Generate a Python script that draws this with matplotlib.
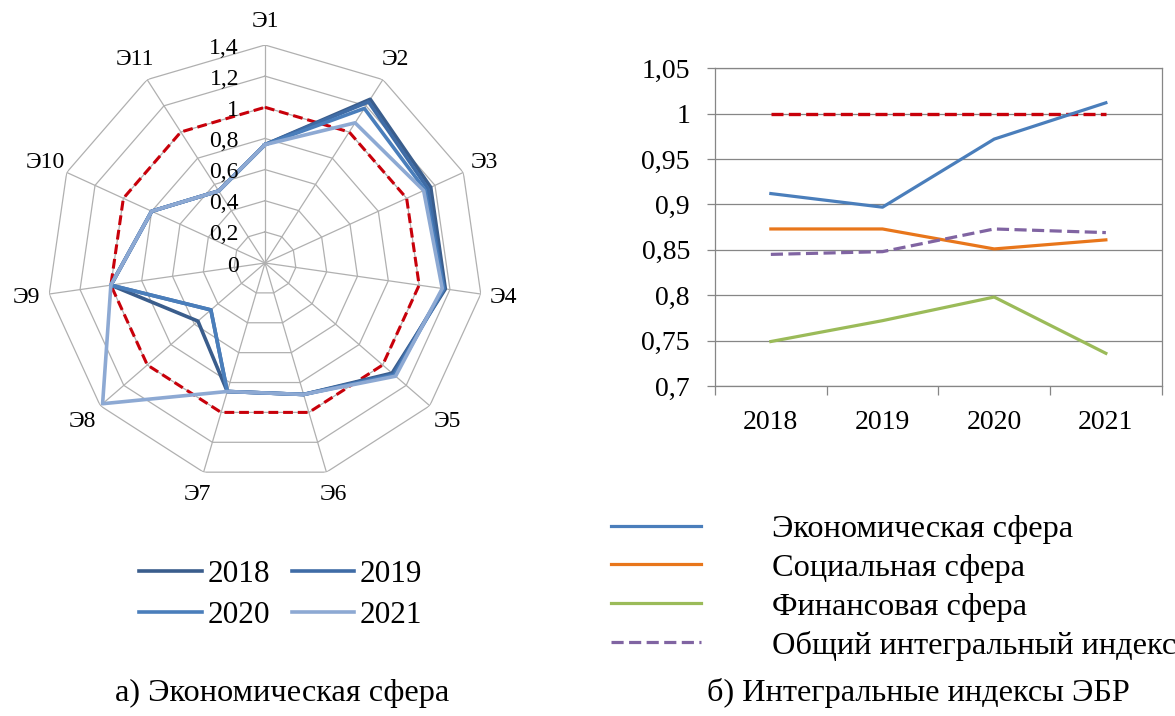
import numpy as np
import matplotlib
matplotlib.use("Agg")
import matplotlib.pyplot as plt

plt.rcParams['font.family'] = ['Liberation Serif', 'DejaVu Serif']

# ---------------- data ----------------
categories = ['Э1', 'Э2', 'Э3', 'Э4', 'Э5', 'Э6', 'Э7', 'Э8', 'Э9', 'Э10', 'Э11']
radar_2018 = [0.76, 1.25, 1.17, 1.17, 1.08, 0.88, 0.86, 0.57, 1.00, 0.80, 0.55]
radar_2019 = [0.76, 1.23, 1.15, 1.16, 1.09, 0.88, 0.86, 0.46, 1.00, 0.80, 0.55]
radar_2020 = [0.76, 1.18, 1.13, 1.16, 1.10, 0.88, 0.86, 0.46, 1.00, 0.80, 0.55]
radar_2021 = [0.76, 1.07, 1.12, 1.15, 1.11, 0.88, 0.86, 1.38, 1.00, 0.80, 0.55]
radar_norm = [1.0] * 11
radar_ticks = [0, 0.2, 0.4, 0.6, 0.8, 1.0, 1.2, 1.4]
radar_tick_labels = ['0', '0,2', '0,4', '0,6', '0,8', '1', '1,2', '1,4']

years = ['2018', '2019', '2020', '2021']
econ = [0.912, 0.897, 0.972, 1.012]
social = [0.873, 0.873, 0.851, 0.861]
finance = [0.749, 0.772, 0.798, 0.736]
general = [0.845, 0.848, 0.873, 0.869]
norm_line = [1.0, 1.0, 1.0, 1.0]
y_ticks = [0.7, 0.75, 0.8, 0.85, 0.9, 0.95, 1.0, 1.05]
y_tick_labels = ['0,7', '0,75', '0,8', '0,85', '0,9', '0,95', '1', '1,05']
legend_labels = ['Экономическая сфера', 'Социальная сфера', 'Финансовая сфера',
                 'Общий интегральный индекс']

W, H = 1175, 716
fig = plt.figure(figsize=(W / 100, H / 100), dpi=100)

# ---------------- radar ----------------
cx, cy, R = 265, 263, 218
ax = fig.add_axes([(cx - R) / W, (H - cy - R) / H, 2 * R / W, 2 * R / H], projection='polar')
ax.set_theta_zero_location('N')
ax.set_theta_direction(-1)
ax.set_ylim(0, 1.4)
ax.grid(False)
ax.set_xticks([])
ax.set_yticks([])
ax.spines['polar'].set_visible(False)
ax.patch.set_visible(False)

n = len(categories)
ang = np.linspace(0, 2 * np.pi, n, endpoint=False)
ang_c = np.append(ang, ang[0])
grid_col = '#B0B0B0'
for r in radar_ticks[1:]:
    ax.plot(ang_c, [r] * (n + 1), color=grid_col, lw=0.9, zorder=1)
for a in ang:
    ax.plot([a, a], [0, 1.4], color=grid_col, lw=0.9, zorder=1)

def closed(v):
    return list(v) + [v[0]]

ax.plot(ang_c, closed(radar_norm), color='#C8000A', lw=2.2, ls=(0, (3.2, 1.6)), zorder=2)
year_colors = ['#3A5D8C', '#3F6CA6', '#4A7EBB', '#8DA9D3']
radar_series = [radar_2018, radar_2019, radar_2020, radar_2021]
handles = []
for yr, vals, col in zip(years, radar_series, year_colors):
    h, = ax.plot(ang_c, closed(vals), color=col, lw=2.6, zorder=3, label=yr)
    handles.append(h)

for r, lab in zip(radar_ticks, radar_tick_labels):
    ax.annotate(lab, xy=(0, r), xytext=(-26, -3), textcoords='offset pixels',
                ha='right', va='center', fontsize=17, annotation_clip=False)
for a, lab in zip(ang, categories):
    ax.text(a, 1.55, lab, ha='center', va='center', fontsize=17, clip_on=False)

order = [0, 2, 1, 3]
fig.legend(handles=[handles[i] for i in order], labels=[years[i] for i in order],
           ncol=2, loc='center', bbox_to_anchor=(281 / W, 1 - 595 / H), frameon=False,
           fontsize=22.5, handlelength=2.0, handletextpad=0.18, columnspacing=0.7,
           labelspacing=0.38, borderpad=0, borderaxespad=0)

# ---------------- line chart ----------------
left, right, top, bottom = 715, 1161.7, 68.3, 386
ax2 = fig.add_axes([left / W, (H - bottom) / H, (right - left) / W, (bottom - top) / H])
x = np.arange(len(years)) + 0.5
ax2.set_xlim(0, len(years))
ax2.set_ylim(0.7, 1.05)
ax2.set_yticks(y_ticks)
ax2.set_yticklabels(y_tick_labels, fontsize=20)
ax2.set_xticks(np.arange(len(years) + 1))
ax2.set_xticklabels([])
ax2.set_xticks(x, minor=True)
ax2.set_xticklabels(years, minor=True, fontsize=20)
ax2.tick_params(axis='x', which='major', length=6.5, color='#868686', width=0.9)
ax2.tick_params(axis='x', which='minor', length=0, pad=17.5)
ax2.tick_params(axis='y', length=6, color='#868686', width=0.9, pad=12)
for s in ['top', 'right', 'left', 'bottom']:
    ax2.spines[s].set_color('#868686')
    ax2.spines[s].set_linewidth(0.9)
ax2.grid(axis='y', color='#868686', lw=0.9)
ax2.set_axisbelow(True)

ax2.plot(x, norm_line, color='#C8000A', lw=2.4, ls=(0, (3.6, 1.6)), zorder=3)
l1, = ax2.plot(x, econ, color='#4A7EBB', lw=2.3, zorder=4)
l2, = ax2.plot(x, social, color='#E8761B', lw=2.3, zorder=4)
l3, = ax2.plot(x, finance, color='#9BBB59', lw=2.3, zorder=4)
l4, = ax2.plot(x, general, color='#8064A2', lw=2.3, ls=(0, (3.8, 1.7)), zorder=4)

fig.legend(handles=[l1, l2, l3, l4], labels=legend_labels,
           loc='center left', bbox_to_anchor=(611 / W, 1 - 587.5 / H), frameon=False,
           fontsize=23.3, handlelength=2.78, handletextpad=2.2, labelspacing=0.28,
           borderpad=0, borderaxespad=0)

fig.text(282 / W, 1 - 693 / H, 'а) Экономическая сфера', ha='center', va='center', fontsize=23.3)
fig.text(918 / W, 1 - 693 / H, 'б) Интегральные индексы ЭБР', ha='center', va='center', fontsize=23.3)

fig.savefig('out.png', dpi=100)
